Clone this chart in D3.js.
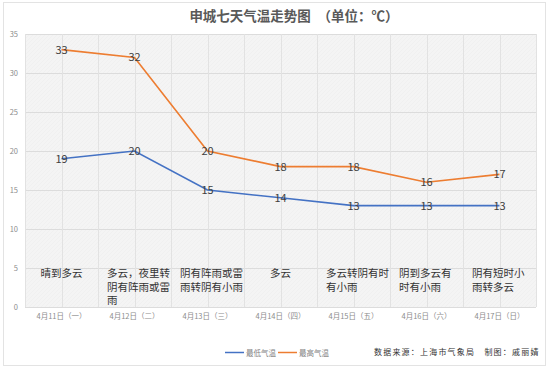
<!DOCTYPE html>
<html lang="zh">
<head>
<meta charset="UTF-8"/>
<title>申城七天气温走势图</title>
<script src="https://d3js.org/d3.v7.min.js"></script>
<style>
  body { margin: 0; background: #fff; font-family: "Noto Sans CJK SC", "Noto Sans", sans-serif; }
</style>
</head>
<body>
<script>
var dates = ["4月11日（一）", "4月12日（二）", "4月13日（三）", "4月14日（四）", "4月15日（五）", "4月16日（六）", "4月17日（日）"];
var weather = [["晴到多云"], ["多云，夜里转", "阴有阵雨或雷", "雨"], ["阴有阵雨或雷", "雨转阴有小雨"], ["多云"], ["多云转阴有时", "有小雨"], ["阴到多云有", "时有小雨"], ["阴有短时小", "雨转多云"]];
var lowTemps = [19, 20, 15, 14, 13, 13, 13];
var highTemps = [33, 32, 20, 18, 18, 16, 17];
var yTicks = [0, 5, 10, 15, 20, 25, 30, 35];

var w = 550, h = 369;
var plotL = 25, plotR = 536, plotT = 34, plotB = 307;

var svg = d3.select("body").append("svg")
    .attr("width", w).attr("height", h);

// frame
svg.append("rect").attr("x", 3.5).attr("y", 2.5).attr("width", 542).attr("height", 363)
    .attr("fill", "#fff").attr("stroke", "#e3e3e3");

var defs = svg.append("defs");
var pat = defs.append("pattern").attr("id", "hatch").attr("width", 4).attr("height", 4)
    .attr("patternUnits", "userSpaceOnUse");
pat.append("rect").attr("width", 4).attr("height", 4).attr("fill", "#f4f4f4");
pat.append("path").attr("d", "M0,4 L4,0").attr("stroke", "#ececec").attr("stroke-width", 0.6);

var x = d3.scaleBand().domain(d3.range(dates.length)).range([plotL, plotR]);
var y = d3.scaleLinear().domain([0, 35]).range([plotB, plotT]);

svg.append("rect").attr("x", plotL).attr("y", plotT)
    .attr("width", plotR - plotL).attr("height", plotB - plotT)
    .attr("fill", "url(#hatch)");

// grid
svg.selectAll(".hg").data(yTicks).enter().append("line")
    .attr("x1", plotL).attr("x2", plotR)
    .attr("y1", function(d){ return Math.round(y(d)) + 0.5; })
    .attr("y2", function(d){ return Math.round(y(d)) + 0.5; })
    .attr("stroke", "#dcdcdc");

var vg = [];
for (var i = 0; i <= dates.length * 2; i++) vg.push(i);
svg.selectAll(".vg").data(vg).enter().append("line")
    .attr("x1", function(d){ return Math.round(plotL + d * x.bandwidth() / 2) + 0.5; })
    .attr("x2", function(d){ return Math.round(plotL + d * x.bandwidth() / 2) + 0.5; })
    .attr("y1", plotT).attr("y2", plotB)
    .attr("stroke", "#e2e2e2");

// y axis labels
svg.selectAll(".yl").data(yTicks).enter().append("text")
    .attr("x", 18).attr("y", function(d){ return y(d) + 3; })
    .attr("text-anchor", "end")
    .attr("font-size", 7.5).attr("fill", "#8c8c8c")
    .text(function(d){ return d; });

// date labels
svg.selectAll(".dl").data(dates).enter().append("text")
    .attr("x", function(d, i){ return x(i) + x.bandwidth() / 2; })
    .attr("y", 319)
    .attr("text-anchor", "middle")
    .attr("font-size", 7.5).attr("fill", "#8c8c8c")
    .text(function(d){ return d; });

// weather text
weather.forEach(function(lines, i){
    var t = svg.append("text").attr("font-size", 10.5).attr("fill", "#333");
    if (lines.length == 1) {
        t.attr("x", x(i) + x.bandwidth() / 2).attr("text-anchor", "middle");
    } else {
        t.attr("x", x(i) + 9);
    }
    lines.forEach(function(s, j){
        t.append("tspan").attr("x", t.attr("x")).attr("y", 277 + j * 13.5).text(s);
    });
});

var line = d3.line()
    .x(function(d, i){ return x(i) + x.bandwidth() / 2; })
    .y(function(d){ return y(d); });

var series = [
    { name: "最低气温", values: lowTemps, color: "#4472c4" },
    { name: "最高气温", values: highTemps, color: "#ed7d31" }
];

series.forEach(function(s){
    svg.append("path").datum(s.values)
        .attr("d", line).attr("fill", "none")
        .attr("stroke", s.color).attr("stroke-width", 1.6);
    svg.selectAll(null).data(s.values).enter().append("text")
        .attr("x", function(d, i){ return x(i) + x.bandwidth() / 2; })
        .attr("y", function(d){ return y(d) + 4; })
        .attr("text-anchor", "middle")
        .attr("font-size", 11).attr("fill", "#404040")
        .text(function(d){ return d; });
});

// title
svg.append("text").attr("x", 294).attr("y", 21)
    .attr("text-anchor", "middle")
    .attr("font-size", 13.5).attr("font-weight", "bold").attr("fill", "#595959")
    .text("申城七天气温走势图　（单位：℃）");

// legend
series.forEach(function(s, i){
    var lx = 225 + i * 53;
    svg.append("line").attr("x1", lx).attr("x2", lx + 19)
        .attr("y1", 352.5).attr("y2", 352.5)
        .attr("stroke", s.color).attr("stroke-width", 1.5);
    svg.append("text").attr("x", lx + 21).attr("y", 355.5)
        .attr("font-size", 7.5).attr("fill", "#7f7f7f")
        .text(s.name);
});

svg.append("text").attr("x", 374).attr("y", 355)
    .attr("font-size", 8).attr("fill", "#333").attr("letter-spacing", 1.2)
    .text("数据来源：上海市气象局　制图：戚丽婧");
</script>
</body>
</html>
